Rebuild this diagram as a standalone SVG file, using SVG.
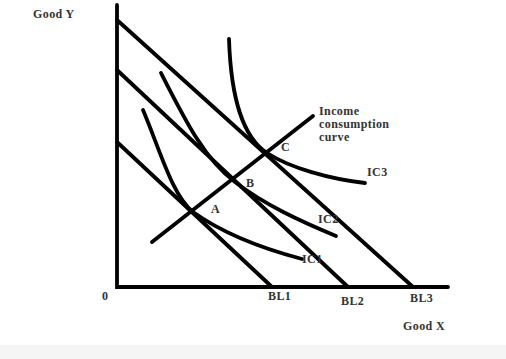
<svg xmlns="http://www.w3.org/2000/svg" width="506" height="359" viewBox="0 0 506 359">
<style>
.ln{fill:none;stroke:#000;stroke-width:3.8;stroke-linecap:round}
.t{font-family:"Liberation Serif",serif;font-weight:bold;font-size:12px;letter-spacing:0.4px;fill:#333}
</style>
<rect width="506" height="359" fill="#fff"/>
<rect x="0" y="345" width="506" height="14" fill="#f5f5f5"/>
<g id="connectors">
<path class="ln" d="M117,5 V287 H448"/>
<path id="BL3" class="ln" d="M117,20 L413,287"/>
<path id="BL2" class="ln" d="M117,70 L348,287"/>
<path id="BL1" class="ln" d="M117,142 L272,287"/>
<path id="IC3" class="ln" d="M229,39 C231,100 243,137 267,153 C290,168 330,179 365,183"/>
<path id="IC2" class="ln" d="M161,73 C185,120 205,160 235,182 C265,205 300,221 336,236"/>
<path id="IC1" class="ln" d="M143,110 C160,150 172,195 193,212 C225,235 268,250 302,259"/>
<path id="ICC" class="ln" d="M152,242 L313,116"/>
</g>
<g id="labels">
<text class="t" x="33" y="18">Good Y</text>
<text class="t" x="319" y="115">Income</text>
<text class="t" x="319" y="128">consumption</text>
<text class="t" x="319" y="141">curve</text>
<text class="t" x="281" y="151">C</text>
<text class="t" x="246" y="187">B</text>
<text class="t" x="211" y="213">A</text>
<text class="t" x="367" y="176">IC3</text>
<text class="t" x="318" y="223">IC2</text>
<text class="t" x="302" y="263">IC1</text>
<text class="t" x="102" y="300">0</text>
<text class="t" x="268" y="300">BL1</text>
<text class="t" x="341" y="305">BL2</text>
<text class="t" x="410" y="302">BL3</text>
<text class="t" x="403" y="330">Good X</text>
</g>
</svg>
